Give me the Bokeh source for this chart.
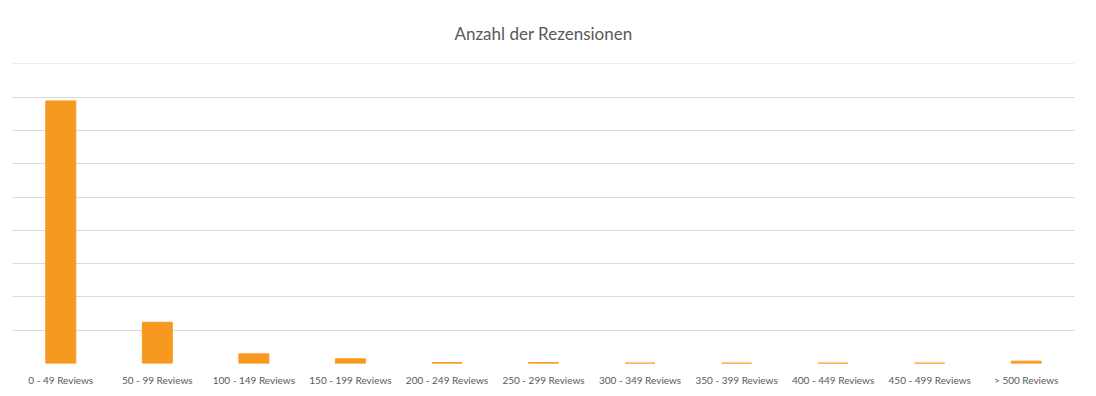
from bokeh.plotting import figure
from bokeh.models import ColumnDataSource, FactorRange, FixedTicker, Range1d
from bokeh.embed import file_html
from bokeh.resources import INLINE

categories = ["0 - 49 Reviews", "50 - 99 Reviews", "100 - 149 Reviews", "150 - 199 Reviews",
              "200 - 249 Reviews", "250 - 299 Reviews", "300 - 349 Reviews", "350 - 399 Reviews",
              "400 - 449 Reviews", "450 - 499 Reviews", "> 500 Reviews"]
counts = [789, 124, 29, 14, 3, 3, 1.5, 1.5, 1.5, 1.5, 7]
grid_ticks = [0, 100, 200, 300, 400, 500, 600, 700, 800, 900]

source = ColumnDataSource(data=dict(cat=categories, count=counts))

p = figure(frame_width=1062, frame_height=300, output_backend="svg", toolbar_location=None,
           x_range=FactorRange(*categories, range_padding=0),
           y_range=Range1d(0, 901.5),
           title="Anzahl der Rezensionen",
           min_border_left=12, min_border_right=6, min_border_top=63, min_border_bottom=0)

p.vbar(x="cat", top="count", width=0.31, source=source, color="#F7991F")

p.title.align = "center"
p.title.text_font = "Lato"
p.title.text_font_size = "17px"
p.title.text_font_style = "normal"
p.title.text_color = "#595959"
p.title.standoff = 40

p.outline_line_color = None
p.background_fill_color = "white"
p.border_fill_color = "white"

p.yaxis.visible = False
p.yaxis.ticker = FixedTicker(ticks=grid_ticks)
p.ygrid.ticker = FixedTicker(ticks=grid_ticks)
p.ygrid.grid_line_color = "#D9D9D9"
p.ygrid.grid_line_width = 1
p.xgrid.grid_line_color = None

p.xaxis.axis_line_color = None
p.xaxis.major_tick_line_color = None
p.xaxis.minor_tick_line_color = None
p.xaxis.major_label_text_font = "Lato"
p.xaxis.major_label_text_font_size = "10px"
p.xaxis.major_label_text_color = "#595959"
p.xaxis.major_label_standoff = 4

open("out.html", "w").write(file_html(p, INLINE))
